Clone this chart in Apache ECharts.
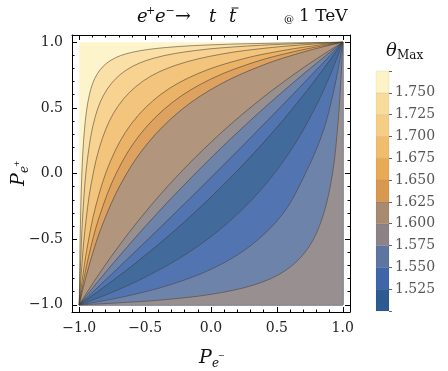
<!DOCTYPE html>
<html><head><meta charset="utf-8">
<script src="https://cdn.jsdelivr.net/npm/echarts@6/dist/echarts.min.js"></script>
<style>html,body{margin:0;padding:0;background:#fff}#c{width:448px;height:371px}</style>
</head><body><div id="c"></div>
<script>
// ---- data ----
const majorTicks = [-1, -0.5, 0, 0.5, 1];
const minorTicks = [-0.9,-0.8,-0.7,-0.6,-0.4,-0.3,-0.2,-0.1,0.1,0.2,0.3,0.4,0.6,0.7,0.8,0.9];
const bandEdges = [1.5,1.525,1.55,1.575,1.6,1.625,1.65,1.675,1.7,1.725,1.75,1.775];
const bandColors = ['#2d5a91','#3f66a9','#5e75a1','#8d8285','#a88a6e','#d9984e','#e9aa56','#f0bd6d','#f6cd85','#f9dc9c','#fdf3c6'];
// theta value representative of each region, from upper-left corner to lower-right corner
const regionValues = [1.76,1.74,1.71,1.69,1.66,1.64,1.61,1.59,1.56,1.54,1.51,1.54,1.56,1.59];
const contourLevels = [1.75,1.725,1.7,1.675,1.65,1.625,1.6,1.575,1.55,1.525,1.525,1.55,1.575];
// contour lines (P_e-, P_e+)
const cont1750 = [[-1,-1],[-0.998,-0.849],[-0.993,-0.501],[-0.982,-0.051],[-0.960,0.336],[-0.922,0.604],[-0.862,0.761],[-0.761,0.862],[-0.604,0.922],[-0.336,0.960],[0.051,0.982],[0.501,0.993],[0.849,0.998],[1,1]];
const cont1725 = [[-1,-1],[-0.997,-0.902],[-0.989,-0.655],[-0.971,-0.277],[-0.937,0.116],[-0.878,0.435],[-0.787,0.644],[-0.644,0.787],[-0.435,0.878],[-0.116,0.937],[0.277,0.971],[0.655,0.989],[0.902,0.997],[1,1]];
const cont1700 = [[-1,-1],[-0.996,-0.932],[-0.984,-0.751],[-0.958,-0.444],[-0.909,-0.077],[-0.825,0.266],[-0.703,0.517],[-0.517,0.703],[-0.266,0.825],[0.077,0.909],[0.444,0.958],[0.751,0.984],[0.932,0.996],[1,1]];
const cont1675 = [[-1,-1],[-0.995,-0.952],[-0.978,-0.818],[-0.941,-0.572],[-0.874,-0.246],[-0.761,0.099],[-0.604,0.379],[-0.379,0.604],[-0.099,0.761],[0.246,0.874],[0.572,0.941],[0.818,0.978],[0.952,0.995],[1,1]];
const cont1650 = [[-1,-1],[-0.993,-0.960],[-0.973,-0.847],[-0.929,-0.633],[-0.849,-0.333],[-0.718,0.004],[-0.540,0.295],[-0.295,0.540],[-0.004,0.718],[0.333,0.849],[0.633,0.929],[0.847,0.973],[0.960,0.993],[1,1]];
const cont1625 = [[-1,-1],[-0.992,-0.965],[-0.969,-0.867],[-0.918,-0.675],[-0.827,-0.398],[-0.680,-0.071],[-0.485,0.225],[-0.225,0.485],[0.071,0.680],[0.398,0.827],[0.675,0.918],[0.867,0.969],[0.965,0.992],[1,1]];
const cont1600 = [[-1,-1],[-0.987,-0.979],[-0.949,-0.918],[-0.867,-0.792],[-0.727,-0.590],[-0.517,-0.317],[-0.265,-0.028],[0.028,0.265],[0.317,0.517],[0.590,0.727],[0.792,0.867],[0.918,0.949],[0.979,0.987],[1,1]];
const cont1575 = [[-1,-1],[-0.986,-0.982],[-0.942,-0.927],[-0.851,-0.814],[-0.696,-0.629],[-0.470,-0.371],[-0.207,-0.090],[0.090,0.207],[0.371,0.470],[0.629,0.696],[0.814,0.851],[0.927,0.942],[0.982,0.986],[1,1]];
const cont1550 = [[-1,-1],[-0.983,-0.984],[-0.933,-0.937],[-0.829,-0.838],[-0.655,-0.672],[-0.409,-0.434],[-0.134,-0.164],[0.164,0.134],[0.434,0.409],[0.672,0.655],[0.838,0.829],[0.937,0.933],[0.984,0.983],[1,1]];
const cont1525 = [[-1,-1],[-0.980,-0.986],[-0.923,-0.946],[-0.804,-0.859],[-0.610,-0.712],[-0.344,-0.494],[-0.059,-0.236],[0.236,0.059],[0.494,0.344],[0.712,0.610],[0.859,0.804],[0.946,0.923],[0.986,0.980],[1,1]];
const cont1525b = [[-1,-1],[-0.973,-0.990],[-0.893,-0.961],[-0.734,-0.898],[-0.492,-0.786],[-0.186,-0.612],[0.111,-0.390],[0.390,-0.111],[0.612,0.186],[0.786,0.492],[0.898,0.734],[0.961,0.893],[0.990,0.973],[1,1]];
const cont1550b = [[-1,-1],[-0.959,-0.994],[-0.844,-0.974],[-0.627,-0.931],[-0.324,-0.852],[0.014,-0.723],[0.304,-0.547],[0.547,-0.304],[0.723,0.014],[0.852,0.324],[0.931,0.627],[0.974,0.844],[0.994,0.959],[1,1]];
const cont1575b = [[-1,-1],[-0.922,-0.997],[-0.719,-0.986],[-0.385,-0.964],[-0.006,-0.921],[0.331,-0.847],[0.568,-0.737],[0.737,-0.568],[0.847,-0.331],[0.921,-0.006],[0.964,0.385],[0.986,0.719],[0.997,0.922],[1,1]];
const domainCorners = [[-1,-1],[-1,1],[1,1],[1,-1]];

const contours = [cont1750,cont1725,cont1700,cont1675,cont1650,cont1625,cont1600,cont1575,cont1550,cont1525,cont1525b,cont1550b,cont1575b];

// ---- helpers ----
function bandOf(v){ for (let i=0;i<bandEdges.length-1;i++){ if (v>=bandEdges[i] && v<bandEdges[i+1]) return i; } return bandEdges.length-2; }
function lighten(hex, t){
  const n = parseInt(hex.slice(1),16); const r=(n>>16)&255,g=(n>>8)&255,b=n&255;
  const f=c=>Math.round(c+(255-c)*t);
  return 'rgb('+f(r)+','+f(g)+','+f(b)+')';
}
const fmt = v => { const s = Math.abs(v).toFixed(1); return v < -1e-9 ? '\u2212'+s : s; };
const SERIF = 'DejaVu Serif';
const LIM = 1.055;
const SMOOTH = 0.35;

function ax(pos, ticks, len, withLine, withLabel){
  return {type:'value', gridIndex:0, position:pos, min:-LIM, max:LIM,
    axisLine:{show:withLine, onZero:false, lineStyle:{color:'#000', width:1}},
    axisTick:{show:true, inside:true, length:len, customValues:ticks, lineStyle:{color:'#000', width:1}},
    axisLabel:{show:withLabel, customValues:ticks, formatter:fmt, margin:9, fontFamily:SERIF, fontSize:14, color:'#222'},
    splitLine:{show:false}};
}
function txt(x, y, s, size, italic, fill){
  return {type:'text', x:x, y:y, silent:true, style:{text:s, fontFamily:SERIF, fontSize:size, fontStyle:italic?'italic':'normal', fill:fill||'#111', verticalAlign:'middle', align:'left'}};
}
function constraint(api){
  const a = api.coord([-1, 1]), b = api.coord([1, -1]);
  return [[a[0], a[1]], [b[0], b[1]]];
}

const chart = echarts.init(document.getElementById('c'), null, {renderer:'canvas'});
chart.setOption({
  animation:false,
  backgroundColor:'#fff',
  grid:[{left:72, top:35, width:278, height:277},{left:376, top:71, width:13, height:240}],
  xAxis:[
    ax('bottom', majorTicks, 5, true, true),
    ax('bottom', minorTicks, 2.5, false, false),
    ax('top', majorTicks, 5, true, false),
    ax('top', minorTicks, 2.5, false, false),
    {type:'category', gridIndex:1, data:['bar'], show:false}
  ],
  yAxis:[
    ax('left', majorTicks, 5, true, true),
    ax('left', minorTicks, 2.5, false, false),
    ax('right', majorTicks, 5, true, false),
    ax('right', minorTicks, 2.5, false, false),
    {type:'value', gridIndex:1, position:'right', min:1.5, max:1.775, interval:0.025,
      axisLine:{show:false}, splitLine:{show:false},
      axisTick:{show:true, inside:false, length:3, lineStyle:{color:'#666'}},
      axisLabel:{margin:6, fontFamily:SERIF, fontSize:14, color:'#555',
        formatter:v => (v>1.51 && v<1.765) ? v.toFixed(3) : ''}}
  ],
  graphic:[
    // title  e+ e- -> t tbar @ 1 TeV
    txt(137, 17, 'e', 18, true), txt(146, 11, '+', 11, false),
    txt(155, 17, 'e', 18, true), txt(165.5, 11, '\u2212', 11, false),
    txt(175, 17, '\u2192', 19, false),
    txt(209, 17, 't', 18, true), txt(229, 17, 't', 18, true),
    {type:'line', silent:true, shape:{x1:231.5, y1:8, x2:238.5, y2:8}, style:{stroke:'#111', lineWidth:1}},
    txt(284, 19, '@', 10, false), txt(299, 17, '1 TeV', 17, false),
    // colorbar title
    txt(386, 51, '\u03b8', 18, true), txt(397, 56, 'Max', 12, false),
    // x-axis title
    txt(199, 358, 'P', 19, true), txt(212, 364, 'e', 12, true), txt(218, 356, '\u2212', 8, false),
    // y-axis title (rotated)
    {type:'group', x:19, y:186, rotation:Math.PI/2, children:[
      txt(0, 0, 'P', 19, true), txt(13, 6, 'e', 12, true), txt(19, -2, '+', 8, false)
    ]}
  ],
  series:[
    {type:'custom', coordinateSystem:'cartesian2d', xAxisIndex:0, yAxisIndex:0, silent:true, clip:false,
      data: regionValues.map((v,i)=>({value:[i, v]})),
      renderItem(params, api){
        const i = params.dataIndex;
        const col = lighten(bandColors[bandOf(regionValues[i])], 0.1);
        if (i===0) return {type:'polygon', shape:{points: domainCorners.map(p=>api.coord(p))}, style:{fill:col}};
        const pts = contours[i-1].concat([[1,-1]]);
        return {type:'polygon', shape:{points: pts.map(p=>api.coord(p)), smooth:SMOOTH, smoothConstraint:constraint(api)}, style:{fill:col, stroke:col, lineWidth:0.6}};
      }},
    {type:'custom', coordinateSystem:'cartesian2d', xAxisIndex:0, yAxisIndex:0, silent:true, clip:false,
      data: contourLevels.map((v,i)=>({value:[i, v]})),
      renderItem(params, api){
        const pts = contours[params.dataIndex];
        return {type:'polyline', shape:{points: pts.map(p=>api.coord(p)), smooth:SMOOTH, smoothConstraint:constraint(api)}, style:{fill:null, stroke:'rgba(60,55,50,0.7)', lineWidth:0.75}};
      }},
    {type:'custom', coordinateSystem:'cartesian2d', xAxisIndex:4, yAxisIndex:4, silent:true,
      data: bandColors.map((c,i)=>({value:['bar', bandEdges[i], bandEdges[i+1]]})),
      renderItem(params, api){
        const i = params.dataIndex;
        const lo = api.coord(['bar', bandEdges[i]]), hi = api.coord(['bar', bandEdges[i+1]]);
        const w = api.size(['bar', 0])[0];
        return {type:'rect', shape:{x:lo[0]-w/2, y:hi[1], width:w, height:lo[1]-hi[1]}, style:{fill:bandColors[i], stroke:'rgba(0,0,0,0.12)', lineWidth:0.5}};
      }}
  ]
});
</script></body></html>
